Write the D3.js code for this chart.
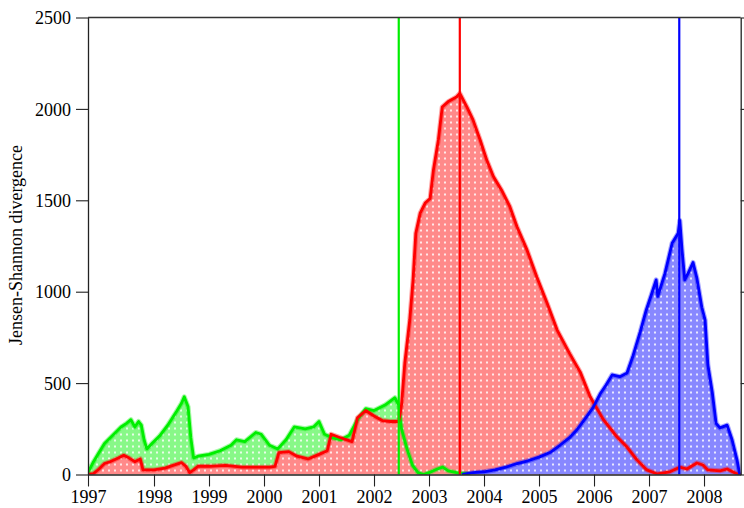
<!DOCTYPE html>
<html>
<head>
<meta charset="utf-8">
<script src="https://cdn.jsdelivr.net/npm/d3@7"></script>
<style>
  body { margin: 0; background: #fff; }
</style>
</head>
<body>
<div id="graph"></div>
<script>
// series values: [year, divergence]
const greenSeries = [
  [1996.8, 10], [1996.9, 70], [1997.0, 120], [1997.1, 170], [1997.2, 200], [1997.3, 230],
  [1997.4, 260], [1997.5, 280], [1997.58, 300], [1997.65, 260], [1997.72, 290], [1997.77, 270],
  [1997.82, 190], [1997.87, 140], [1997.95, 165], [1998.1, 210], [1998.25, 270], [1998.4, 340],
  [1998.5, 390], [1998.55, 425], [1998.62, 370], [1998.67, 200], [1998.72, 90], [1998.8, 100],
  [1999.0, 110], [1999.2, 130], [1999.4, 160], [1999.5, 190], [1999.65, 180], [1999.85, 230],
  [1999.95, 220], [2000.1, 160], [2000.25, 140], [2000.4, 190], [2000.55, 260], [2000.75, 250],
  [2000.9, 260], [2001.0, 290], [2001.1, 220], [2001.25, 200], [2001.4, 190], [2001.55, 215],
  [2001.7, 300], [2001.85, 360], [2002.0, 350], [2002.2, 380], [2002.38, 420], [2002.45, 380],
  [2002.5, 250], [2002.6, 140], [2002.7, 50], [2002.8, 10], [2002.9, 0], [2003.0, 10],
  [2003.15, 30], [2003.25, 40], [2003.35, 20], [2003.5, 10], [2003.65, 5], [2003.75, 0]
];
const redSeries = [
  [1996.8, 0], [1996.9, 5], [1997.0, 30], [1997.1, 60], [1997.2, 70], [1997.35, 90],
  [1997.45, 105], [1997.55, 90], [1997.65, 70], [1997.75, 85], [1997.8, 25], [1998.0, 25],
  [1998.2, 35], [1998.4, 55], [1998.5, 65], [1998.58, 45], [1998.65, 10], [1998.72, 25],
  [1998.8, 45], [1999.0, 45], [1999.3, 50], [1999.6, 40], [1999.9, 40], [2000.1, 40],
  [2000.2, 45], [2000.27, 120], [2000.45, 125], [2000.6, 100], [2000.8, 85], [2001.0, 110],
  [2001.15, 130], [2001.22, 220], [2001.4, 200], [2001.6, 180], [2001.7, 310], [2001.85, 350],
  [2002.0, 320], [2002.15, 295], [2002.3, 290], [2002.45, 290], [2002.5, 380], [2002.56, 610],
  [2002.65, 845], [2002.71, 1065], [2002.76, 1320], [2002.84, 1430], [2002.93, 1485],
  [2003.02, 1510], [2003.08, 1665], [2003.17, 1830], [2003.24, 2010], [2003.35, 2040],
  [2003.5, 2065], [2003.56, 2085], [2003.69, 2010], [2003.8, 1940], [2003.93, 1830],
  [2004.05, 1720], [2004.17, 1630], [2004.32, 1555], [2004.47, 1465], [2004.6, 1355],
  [2004.78, 1230], [2004.96, 1080], [2005.15, 935], [2005.33, 790], [2005.56, 660],
  [2005.75, 560], [2005.93, 425], [2006.17, 300], [2006.42, 205], [2006.6, 150],
  [2006.78, 80], [2006.96, 25], [2007.15, 3], [2007.38, 15], [2007.56, 40], [2007.69, 30],
  [2007.87, 63], [2007.98, 52], [2008.07, 25], [2008.29, 20], [2008.42, 30], [2008.6, 3],
  [2008.67, 0]
];
const blueSeries = [
  [2003.6, 0], [2003.8, 10], [2004.0, 15], [2004.2, 25], [2004.4, 40], [2004.6, 60],
  [2004.8, 75], [2005.0, 95], [2005.2, 120], [2005.38, 160], [2005.55, 200], [2005.69, 245],
  [2005.85, 310], [2005.98, 365], [2006.11, 440], [2006.22, 490], [2006.33, 545],
  [2006.47, 535], [2006.6, 555], [2006.71, 650], [2006.84, 780], [2006.95, 900],
  [2007.05, 990], [2007.13, 1065], [2007.16, 975], [2007.29, 1100], [2007.42, 1265],
  [2007.53, 1320], [2007.56, 1390], [2007.6, 1230], [2007.65, 1065], [2007.71, 1100],
  [2007.8, 1160], [2007.87, 1075], [2007.96, 915], [2008.02, 845], [2008.07, 600],
  [2008.15, 450], [2008.22, 280], [2008.29, 255], [2008.42, 270], [2008.51, 190],
  [2008.6, 80], [2008.65, 0]
];
// dates of the three vertical markers
const markerYears = [2002.45, 2003.56, 2007.55];
const xTickValues = [1996.8, 1998, 1999, 2000, 2001, 2002, 2003, 2004, 2005, 2006, 2007, 2008];
const xTickLabels = ["1997", "1998", "1999", "2000", "2001", "2002", "2003", "2004", "2005", "2006", "2007", "2008"];
const yTickValues = [0, 500, 1000, 1500, 2000, 2500];

const serif = "'Liberation Serif', 'Times New Roman', 'DejaVu Serif', serif";
const fullW = 744, fullH = 508;
const margin = {top: 17.5, right: 3.3, bottom: 33.5, left: 88},
    width = fullW - margin.left - margin.right,
    height = fullH - margin.top - margin.bottom;

const x = d3.scaleLinear().domain([1996.8, 2008.667]).range([0, width]);
const y = d3.scaleLinear().domain([0, 2500]).range([height, 0]);

const root = d3.select("#graph")
    .append("svg")
    .attr("width", fullW)
    .attr("height", fullH);

// dotted fill patterns
const defs = root.append("defs");
const layers = [
  {name: "green", data: greenSeries, stroke: "#00ee00", tint: "#88f888"},
  {name: "red", data: redSeries, stroke: "#ff0000", tint: "#ff8a8a"},
  {name: "blue", data: blueSeries, stroke: "#0000ff", tint: "#8888ff"}
];
layers.forEach(function(l) {
  const p = defs.append("pattern")
      .attr("id", "pat-" + l.name)
      .attr("patternUnits", "userSpaceOnUse")
      .attr("width", 6).attr("height", 6);
  p.append("rect").attr("width", 6).attr("height", 6).attr("fill", l.tint);
  p.append("circle").attr("cx", 3).attr("cy", 3).attr("r", 1.1).attr("fill", "#fff");
});
defs.append("clipPath").attr("id", "plotclip")
    .append("rect").attr("x", 0).attr("y", -2).attr("width", width).attr("height", height + 2);

const svg = root.append("g")
    .attr("transform", "translate(" + margin.left + "," + margin.top + ")");

const plot = svg.append("g").attr("clip-path", "url(#plotclip)");

const area = d3.area()
    .x(function(d) { return x(d[0]); })
    .y0(y(0))
    .y1(function(d) { return y(d[1]); });
const line = d3.line()
    .x(function(d) { return x(d[0]); })
    .y(function(d) { return y(d[1]); });

layers.forEach(function(l) {
  plot.append("path")
      .datum(l.data)
      .attr("d", area)
      .attr("fill", "url(#pat-" + l.name + ")");
});
// soft halo under each line, like the noisy edge of the original trace
layers.forEach(function(l) {
  plot.append("path")
      .datum(l.data)
      .attr("d", line)
      .attr("fill", "none")
      .attr("stroke", l.stroke)
      .attr("stroke-opacity", 0.35)
      .attr("stroke-width", 5)
      .attr("stroke-linejoin", "round");
});
layers.forEach(function(l) {
  plot.append("path")
      .datum(l.data)
      .attr("d", line)
      .attr("fill", "none")
      .attr("stroke", l.stroke)
      .attr("stroke-width", 2.8)
      .attr("stroke-linejoin", "round");
});

// vertical markers
plot.selectAll(".marker")
    .data(markerYears)
    .enter().append("line")
    .attr("class", "marker")
    .attr("x1", function(d) { return x(d); })
    .attr("x2", function(d) { return x(d); })
    .attr("y1", y(0))
    .attr("y2", y(2500))
    .attr("stroke", function(d, i) { return layers[i].stroke; })
    .attr("stroke-width", 2.2);

// axes
function styleAxis(g) {
  g.attr("font-family", serif).attr("font-size", 18);
  g.selectAll("path").attr("stroke", "#222").attr("stroke-width", 1.3);
  g.selectAll("line").attr("stroke", "#222").attr("stroke-width", 1.1);
  g.selectAll("text").attr("fill", "#000");
}

svg.append("g")
    .attr("transform", "translate(0," + height + ")")
    .call(d3.axisBottom(x)
        .tickValues(xTickValues)
        .tickSize(12)
        .tickSizeOuter(0)
        .tickPadding(4)
        .tickFormat(function(d, i) { return xTickLabels[i]; }))
    .call(styleAxis);

svg.append("g")
    .call(d3.axisLeft(y)
        .tickValues(yTickValues)
        .tickSize(12)
        .tickSizeOuter(0)
        .tickPadding(5)
        .tickFormat(d3.format("d")))
    .call(styleAxis)
    .selectAll("text").attr("dy", "0.34em");

svg.append("g")
    .attr("transform", "translate(" + width + ",0)")
    .call(d3.axisRight(y)
        .tickValues(yTickValues)
        .tickSize(12)
        .tickSizeOuter(0)
        .tickFormat(""))
    .call(styleAxis);

svg.append("line")
    .attr("x1", 0).attr("x2", width)
    .attr("y1", 0).attr("y2", 0)
    .attr("stroke", "#333").attr("stroke-width", 1.3);

// y axis title
svg.append("text")
    .attr("transform", "translate(" + (22 - margin.left) + "," + (245 - margin.top) + ") rotate(-90)")
    .attr("text-anchor", "middle")
    .attr("font-family", serif)
    .attr("font-size", 18)
    .text("Jensen-Shannon divergence");
</script>
</body>
</html>
